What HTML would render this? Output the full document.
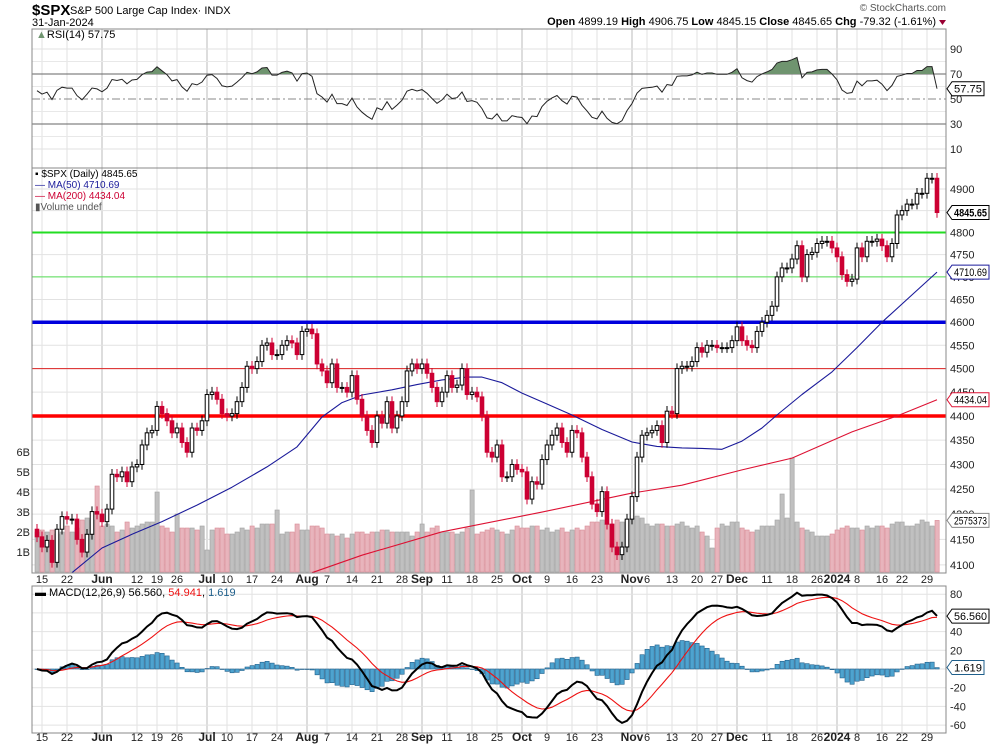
<!DOCTYPE html>
<html><head><meta charset="utf-8"><style>
html,body{margin:0;padding:0;background:#fff;}
svg{display:block;font-family:"Liberation Sans",sans-serif;}
</style></head><body>
<svg id="chart" width="990" height="744" viewBox="0 0 990 744">
<rect x="0" y="0" width="990" height="744" fill="#fff"/>
<g>
<text x="32" y="15" font-size="15" font-weight="bold">$SPX</text>
<text x="70" y="14" font-size="11">S&amp;P 500 Large Cap Index· INDX</text>
<text x="32" y="26" font-size="11">31-Jan-2024</text>
<text x="946" y="11" font-size="10" fill="#555" text-anchor="end">© StockCharts.com</text>
<text x="936" y="25" font-size="11" text-anchor="end"><tspan font-weight="bold">Open</tspan> 4899.19 <tspan font-weight="bold">High</tspan> 4906.75 <tspan font-weight="bold">Low</tspan> 4845.15 <tspan font-weight="bold">Close</tspan> 4845.65 <tspan font-weight="bold">Chg</tspan> -79.32 (-1.61%)</text>
<path d="M939 20 L946 20 L942.5 25 Z" fill="#990033"/>
</g>
<g id="grid"></g>
<g id="marks"></g>
<g id="frames"></g>
<g id="labels"></g>
</svg>
<script>
// ---- data ----
const closes=[4155,4135,4148,4105,4170,4195,4190,4190,4150,4125,
4160,4205,4200,4185,4210,4280,4275,4285,4265,4295,
4300,4340,4365,4370,4420,4405,4390,4365,4375,4345,
4325,4375,4370,4390,4445,4450,4435,4405,4400,4405,
4430,4460,4505,4500,4515,4550,4555,4530,4530,4550,
4560,4555,4530,4580,4585,4575,4510,4495,4470,4510,
4460,4460,4450,4485,4435,4400,4370,4345,4400,4385,
4430,4375,4400,4430,4495,4510,4500,4510,4490,4460,
4430,4450,4485,4460,4465,4500,4445,4450,4440,4400,
4325,4315,4340,4275,4275,4300,4290,4285,4230,4265,
4260,4310,4340,4360,4375,4345,4325,4370,4365,4315,
4275,4220,4205,4245,4180,4135,4120,4135,4190,4235,
4315,4360,4365,4370,4380,4345,4410,4405,4500,4505,
4505,4515,4545,4535,4550,4550,4545,4545,4545,4560,
4590,4560,4550,4545,4580,4600,4615,4635,4700,4720,
4720,4740,4770,4700,4750,4755,4775,4780,4780,4765,
4745,4705,4690,4695,4765,4745,4780,4780,4785,4770,
4745,4775,4840,4850,4865,4865,4890,4890,4925,4925,
4845.65];
const volumes=[2.0,2.1,2.0,2.1,1.9,2.0,2.3,2.0,2.2,2.6,
2.7,2.6,4.3,2.3,2.4,2.3,2.0,2.1,2.5,2.2,
2.3,2.4,2.5,2.5,4.0,2.3,2.2,2.0,2.9,2.2,
2.2,2.2,2.1,2.3,1.1,2.1,2.2,2.2,1.9,1.9,
2.0,2.2,2.1,2.3,2.2,2.4,2.4,2.4,3.1,1.9,
2.0,2.0,2.4,2.1,2.1,2.3,2.3,2.2,1.9,1.9,
1.8,1.9,1.7,1.9,2.0,2.0,1.9,2.0,2.0,2.1,
2.1,2.0,2.0,2.0,2.0,1.8,2.0,2.4,2.0,2.2,
2.3,2.0,2.0,2.0,1.9,2.0,2.2,4.1,1.9,2.0,
2.1,2.2,2.1,2.0,1.9,2.1,2.3,2.2,2.2,2.3,
2.3,2.1,2.2,2.0,2.1,2.2,2.0,2.1,2.2,2.1,
2.3,2.5,2.5,2.6,2.4,2.4,2.6,2.5,2.6,2.7,
2.8,2.7,2.4,2.3,2.4,2.4,2.3,2.3,2.4,2.5,
2.3,2.2,2.3,2.0,1.8,1.2,2.2,2.4,2.3,2.5,
2.5,2.2,2.1,2.0,2.1,2.3,2.3,2.3,2.6,3.9,
2.7,5.7,2.5,2.2,2.1,2.0,1.8,1.8,1.8,1.9,
2.1,2.2,2.3,2.2,2.2,2.1,2.3,2.2,2.3,2.3,
2.2,2.4,2.5,2.5,2.3,2.3,2.4,2.6,2.5,2.3,
2.58];
const ma50Idx=[7,13,19,25,32,39,46,52,57,61,65,71,76,81,86,89,93,97,102,107,113,119,124,129,133,137,141,145,148,153,159,164,169,175,180];
const ma50Val=[4085,4133,4160,4185,4218,4254,4295,4336,4398,4428,4444,4455,4466,4476,4482,4482,4470,4448,4425,4402,4372,4346,4337,4334,4333,4331,4348,4375,4402,4445,4493,4545,4600,4660,4710.69];
const ma200Idx=[55,65,81,101,119,129,141,151,163,172,180];
const ma200Val=[4085,4119,4165,4204,4242,4258,4289,4313,4367,4400,4434.04];
const tickIdx=[1,6,13,20,24,28,34,38,43,48,54,58,63,68,73,77,82,87,92,97,102,107,112,119,122,127,132,136,140,146,151,156,160,164,169,173,178];
const tickLbl=["15","22","Jun","12","19","26","Jul","10","17","24","Aug","7","14","21","28","Sep","11","18","25","Oct","9","16","23","Nov","6","13","20","27","Dec","11","18","26","2024","8","16","22","29"];
const priceTicks=[4100,4150,4200,4250,4300,4350,4400,4450,4500,4550,4600,4650,4700,4750,4800,4850,4900];
const rsiTicks=[10,30,50,70,90];
const macdTicks=[-60,-40,-20,0,20,40,60,80];
const volTicks=[1,2,3,4,5,6];

// ---- scales ----
const L=32,R=946;
const x=i=>37+5*i;
const yP=v=>189+2109*Math.log(4900/v);
const yR=v=>99-(v-50)*1.25;
const yM=v=>669-v*0.935;
const yV=b=>572-b*20;
const NS="http://www.w3.org/2000/svg";
function mk(parent,tag,attrs,text){const e=document.createElementNS(NS,tag);for(const k in attrs)e.setAttribute(k,attrs[k]);if(text!==undefined)e.textContent=text;parent.appendChild(e);return e;}
const G=document.getElementById('grid'),M=document.getElementById('marks'),F=document.getElementById('frames'),T=document.getElementById('labels');

// ---- grids ----
const panels=[[29,168],[168,573],[586,733]];
const bold=s=>isNaN(+s)||s==="2024";
tickIdx.forEach((ti,k)=>{
  panels.forEach(p=>{
    const ln=mk(G,'line',{x1:x(ti),x2:x(ti),y1:p[0],y2:p[1],stroke:bold(tickLbl[k])?'#bbb':'#e2e2e2','stroke-width':1});
    
    
  });
  [583,741].forEach(yy=>{
    const t=mk(T,'text',{x:x(ti),y:yy,'font-size':bold(tickLbl[k])?12:11,'font-weight':bold(tickLbl[k])?'bold':'normal','text-anchor':'middle',fill:'#222'},tickLbl[k]);
    
    
  });
});
priceTicks.forEach(v=>{
  const ln=mk(G,'line',{x1:L,x2:R,y1:yP(v),y2:yP(v),stroke:'#e2e2e2'});
  
  
  if(v!==4850){
  const t=mk(T,'text',{x:950,y:yP(v)+4,'font-size':11,fill:'#222'},String(v));
  
  }
});
volTicks.forEach(b=>{
  const t=mk(T,'text',{x:30,y:yV(b)+4,'font-size':11,'text-anchor':'end',fill:'#222'},b+'B');
  
  
});
rsiTicks.forEach(v=>{
  const dark=(v===70||v===30);
  const ln=mk(G,'line',{x1:L,x2:R,y1:yR(v),y2:yR(v),stroke:dark?'#666':(v===50?'#888':'#e2e2e2'),'stroke-dasharray':v===50?'8,3,2,3':'none'});
  
  
  const t=mk(T,'text',{x:950,y:yR(v)+4,'font-size':11,fill:'#222'},String(v));
  
  
});
[yR(60),yR(40),yR(80),yR(20)].forEach(yy=>{const ln=mk(G,'line',{x1:L,x2:R,y1:yy,y2:yy,stroke:'#e8e8e8'});});
macdTicks.forEach(v=>{
  const ln=mk(G,'line',{x1:L,x2:R,y1:yM(v),y2:yM(v),stroke:'#e2e2e2'});
  
  
  if(v!==0&&v!==60){
  const t=mk(T,'text',{x:950,y:yM(v)+4,'font-size':11,fill:'#222'},String(v));
  
  }
});

// ---- volume ----
closes.forEach((c,i)=>{
  const prev=i>0?closes[i-1]:c;
  const down=c<prev;
  const r=mk(M,'rect',{x:x(i)-2,y:yV(volumes[i]),width:4.2,height:yV(0)-yV(volumes[i]),fill:down?'#e8b4bc':'#c0c0c0',stroke:down?'#d88a96':'#a0a0a0','stroke-width':0.6});
  
  
});

// ---- support/resistance lines ----
[[4800,'#22dd22',2],[4700,'#55dd55',1],[4600,'#0000dd',3.5],[4500,'#dd2222',1],[4400,'#ff0000',3.5]].forEach(a=>{
  const ln=mk(M,'line',{x1:L,x2:R,y1:yP(a[0]),y2:yP(a[0]),stroke:a[1],'stroke-width':a[2]});
  
  
});

// ---- moving averages ----
function maPath(idx,val){return idx.map((ii,k)=>(k?'L':'M')+x(ii).toFixed(1)+' '+yP(val[k]).toFixed(1)).join(' ');}
const m50=mk(M,'path',{d:maPath(ma50Idx,ma50Val),fill:'none',stroke:'#1a1a9a','stroke-width':1.1,'stroke-linejoin':'round'});


const m200=mk(M,'path',{d:maPath(ma200Idx,ma200Val),fill:'none',stroke:'#dd1133','stroke-width':1.1});



// ---- candles ----
closes.forEach((c,i)=>{
  const o=i>0?closes[i-1]:c+15;
  const down=c<o;
  const col=down?'#cc0033':'#000';
  const hi=Math.max(o,c)*1.0025, lo=Math.min(o,c)*0.9975;
  const w=mk(M,'line',{x1:x(i),x2:x(i),y1:yP(hi),y2:yP(lo),stroke:col,'stroke-width':1});
  
  
  const top=yP(Math.max(o,c)),bot=yP(Math.min(o,c));
  const b=mk(M,'rect',{x:x(i)-1.8,y:top,width:3.6,height:Math.max(1,bot-top),fill:down?col:'#fff',stroke:col,'stroke-width':1});
  
  
});

// ---- RSI (Wilder, computed from closes) ----
const rsi=[];let ag=17,al=13;
closes.forEach((c,i)=>{
  if(i>0){const d=c-closes[i-1];ag=(ag*13+Math.max(d,0))/14;al=(al*13+Math.max(-d,0))/14;}
  rsi.push(100-100/(1+ag/Math.max(al,1e-6)));
});
const rsiD=rsi.map((v,i)=>(i?'L':'M')+x(i).toFixed(1)+' '+yR(v).toFixed(1)).join(' ');
const defs=mk(document.getElementById('chart'),'defs',{});
const cp=mk(defs,'clipPath',{id:'above70'});mk(cp,'rect',{x:L,y:29,width:R-L,height:yR(70)-29});
const fillD='M'+x(0)+' '+yR(70)+' '+rsi.map((v,i)=>'L'+x(i).toFixed(1)+' '+yR(v).toFixed(1)).join(' ')+' L'+x(rsi.length-1)+' '+yR(70)+' Z';
const rf=mk(M,'path',{d:fillD,fill:'#6f946f',stroke:'none','clip-path':'url(#above70)'});


const rl=mk(M,'path',{d:rsiD,fill:'none',stroke:'#222','stroke-width':1});



// ---- MACD (computed from closes) ----
let e12=closes[0],e26=closes[0],sig=0;const macd=[],sg=[],hist=[];
closes.forEach(c=>{e12+= (c-e12)*2/13;e26+=(c-e26)*2/27;const m=e12-e26;sig+=(m-sig)*2/10;macd.push(m);sg.push(sig);hist.push(m-sig);});
hist.forEach((h,i)=>{
  const r=mk(M,'rect',{x:x(i)-2,y:Math.min(yM(h),yM(0)),width:4.2,height:Math.max(0.5,Math.abs(yM(h)-yM(0))),fill:'#4ea3cf',stroke:'#1f5f8b','stroke-width':0.6});
  
  
});
const sl=mk(M,'path',{d:sg.map((v,i)=>(i?'L':'M')+x(i).toFixed(1)+' '+yM(v).toFixed(1)).join(' '),fill:'none',stroke:'#ee1111','stroke-width':1.1});


const ml=mk(M,'path',{d:macd.map((v,i)=>(i?'L':'M')+x(i).toFixed(1)+' '+yM(v).toFixed(1)).join(' '),fill:'none',stroke:'#000','stroke-width':2});



// ---- frames ----
panels.forEach(p=>{
  const r=mk(F,'rect',{x:L,y:p[0],width:R-L,height:p[1]-p[0],fill:'none',stroke:'#888','stroke-width':1});
  
  
});

// ---- value tags ----
function tag(yy,txt,col,bw,name){
  const g=mk(T,'g',{});
  
  
  const w=Math.min(37,txt.length*5.6+4);
  mk(g,'path',{d:`M${R+1} ${yy} L${R+6} ${yy-7} L${R+6+w} ${yy-7} L${R+6+w} ${yy+7} L${R+6} ${yy+7} Z`,fill:'#fff',stroke:col,'stroke-width':1});
  mk(g,'text',{x:R+8,y:yy+4,'font-size':11,'font-weight':bw?'bold':'normal',fill:'#000',textLength:w-4,lengthAdjust:'spacingAndGlyphs'},txt);
}
tag(yP(closes[closes.length-1]),'4845.65','#000',true,'last-price-tag');
tag(yP(ma50Val[ma50Val.length-1]),'4710.69','#1a1a9a',false,'ma50-value-tag');
tag(yP(ma200Val[ma200Val.length-1]),'4434.04','#dd1133',false,'ma200-value-tag');
tag(yV(volumes[volumes.length-1]),'2575373','#888',false,'volume-value-tag');
tag(yR(rsi[rsi.length-1]),'57.75','#000',false,'rsi-value-tag');
tag(yM(56.56),'56.560','#000',false,'macd-value-tag');
tag(yM(1.619),'1.619','#1f5f8b',false,'macd-hist-value-tag');
</script>
<div style="position:absolute;left:0;top:0;width:990px;height:744px;pointer-events:none;">
<div style="position:absolute;left:36px;top:29px;font:11px 'Liberation Sans',sans-serif;"><span style="color:#6f946f">▲</span>RSI(14) 57.75</div>
<div style="position:absolute;left:35px;top:169px;font:10px/11px 'Liberation Sans',sans-serif;">
<div>▪ $SPX (Daily) 4845.65</div>
<div style="color:#1a1a9a">— MA(50) 4710.69</div>
<div style="color:#cc0033">— MA(200) 4434.04</div>
<div style="color:#555">▮Volume undef</div>
</div>
<div style="position:absolute;left:35px;top:587px;font:11px 'Liberation Sans',sans-serif;">▬ MACD(12,26,9) 56.560, <span style="color:#ee1111">54.941</span>, <span style="color:#1f5f8b">1.619</span></div>
</div>
</body></html>
